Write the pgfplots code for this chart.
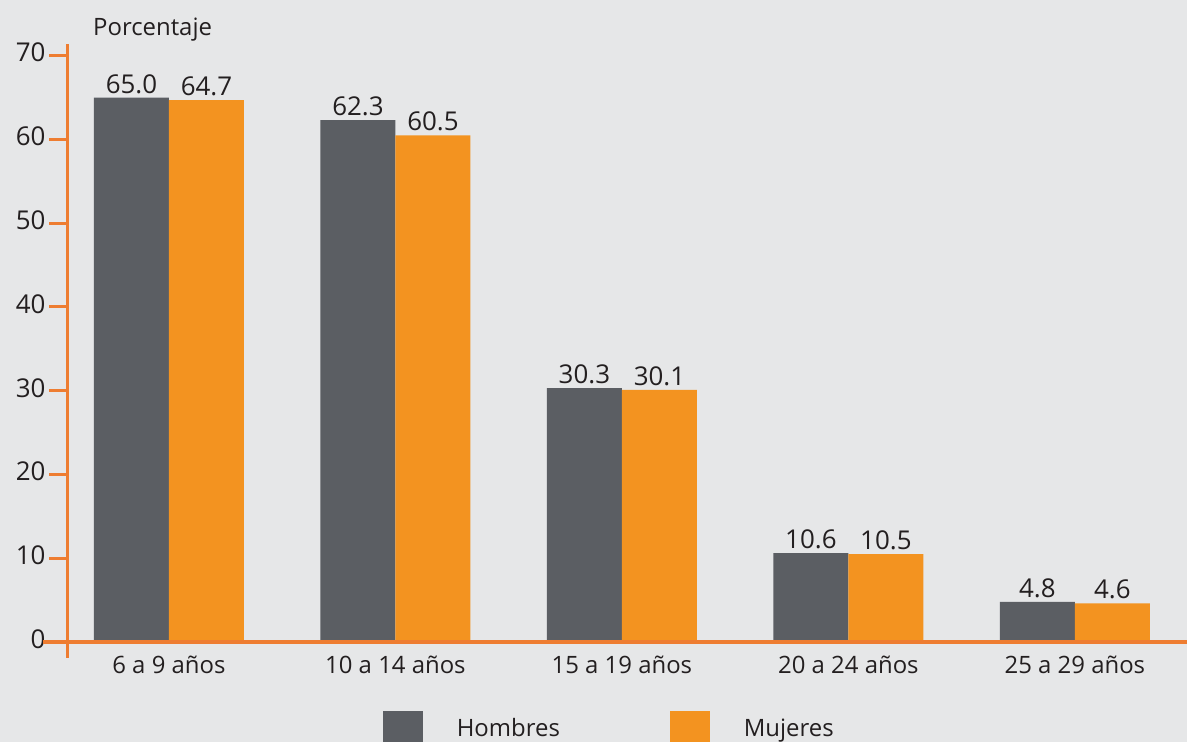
\documentclass[border=0pt]{standalone}
\usepackage{pgfplots}
\pgfplotsset{compat=1.18}
\usepackage{fontspec}
\setmainfont{Open Sans}
\definecolor{bg}{HTML}{E6E7E8}
\definecolor{gris}{HTML}{5B5E63}
\definecolor{naranja}{HTML}{F39320}
\definecolor{eje}{HTML}{EE7D31}
\definecolor{texto}{HTML}{231F20}
\begin{document}
\begin{tikzpicture}
\path[use as bounding box, fill=bg] (0,0) rectangle (1187bp,742bp);
\begin{axis}[
  at={(67bp,100bp)}, anchor=south west,
  scale only axis, width=1120bp, height=598bp,
  xmin=-0.45, xmax=4.495, ymin=0, ymax=71.4,
  ybar=0pt, bar width=75bp,
  axis line style={draw=none},
  clip=false,
  /pgf/number format/assume math mode=true,
  xtick={0,...,4},
  xticklabels={6 a 9 años, 10 a 14 años, 15 a 19 años, 20 a 24 años, 25 a 29 años},
  major x tick style={draw=none},
  xtick pos=bottom, ytick pos=left,
  ytick={0,10,...,70},
  ytick style={draw=eje, line width=3bp},
  tick align=outside, major tick length=18bp,
  yticklabel style={font=\fontsize{26}{30}\selectfont, text=texto, yshift=3bp},
  xticklabel style={font=\fontsize{24}{28}\selectfont, text=texto, yshift=8bp},
  nodes near coords={\pgfmathprintnumber[fixed,fixed zerofill,precision=1]{\pgfplotspointmeta}},
  nodes near coords style={font=\fontsize{26}{30}\selectfont, text=texto, anchor=south, inner sep=4bp},
  legend style={at={(0.282,-0.1154)}, anchor=north west, draw=none, fill=none,
    inner sep=0pt, outer sep=0pt, font=\fontsize{24}{28}\selectfont, text=texto,
    nodes={yshift=10bp},
    /tikz/every even column/.append style={column sep=108bp}},
  legend columns=2, legend cell align=left,
  legend image code/.code={\fill[#1] (0bp,-10bp) rectangle (40bp,27bp); \path[draw=none,fill=none] (0bp,0bp) -- (72bp,0bp);},
]
\addplot[fill=gris, draw=none] coordinates {(0,65.0) (1,62.3) (2,30.3) (3,10.6) (4,4.8)};
\addplot[fill=naranja, draw=none] coordinates {(0,64.7) (1,60.5) (2,30.1) (3,10.5) (4,4.6)};
\legend{Hombres, Mujeres}
\draw[eje, line width=3bp] (axis cs:-0.45,-1.91) -- (axis cs:-0.45,71.4);
\draw[eje, line width=3bp] (axis cs:-0.556,0) -- (axis cs:4.495,0);
\node[anchor=base west, inner sep=0pt, font=\fontsize{24}{28}\selectfont, text=texto] at (axis description cs:0.0232,1.015) {Porcentaje};
\end{axis}
\end{tikzpicture}
\end{document}
